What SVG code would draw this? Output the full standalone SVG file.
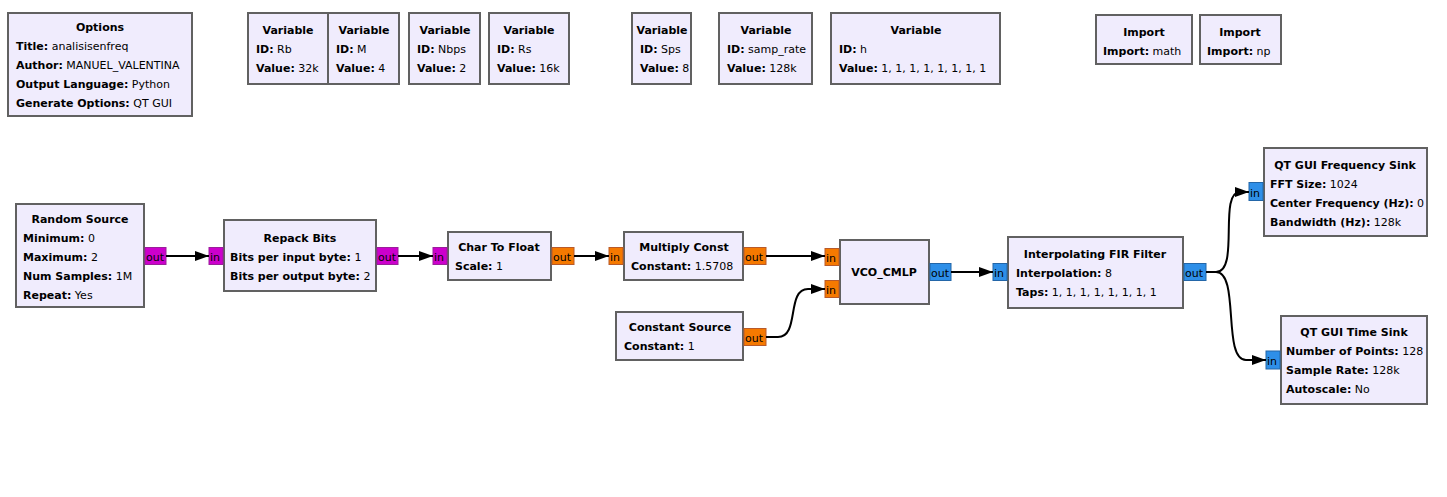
<svg xmlns="http://www.w3.org/2000/svg" width="1447" height="497" viewBox="0 0 1447 497">
<defs>
<style>
.blk{fill:#F0ECFD;stroke:#616161;stroke-width:2}
text{font-family:"DejaVu Sans","Liberation Sans",sans-serif;font-size:11px;fill:#000}
.t{font-weight:bold;text-anchor:middle}
.b{font-weight:bold}
.pb{fill:#CC00CC;stroke:#9A1F9A;stroke-width:1}
.pf{fill:#F57900;stroke:#B85A2A;stroke-width:1}
.pc{fill:#2E8FE8;stroke:#2366A8;stroke-width:1}
.pl{font-size:11px}
.w{fill:none;stroke:#000;stroke-width:2;marker-end:url(#ah)}
</style>
<marker id="ah" viewBox="0 0 14 10" refX="14" refY="5" markerWidth="14" markerHeight="10" markerUnits="userSpaceOnUse" orient="auto">
<path d="M0,0 L14,5 L0,10 Z" fill="#000"/>
</marker>
</defs>
<rect width="1447" height="497" fill="#fff"/>

<g id="options">
<rect class="blk" x="8" y="13" width="184" height="103"/>
<text class="t" x="100" y="31">Options</text>
<text x="16" y="50"><tspan class="b">Title:</tspan> analisisenfreq</text>
<text x="16" y="69"><tspan class="b">Author:</tspan> MANUEL_VALENTINA</text>
<text x="16" y="88"><tspan class="b">Output Language:</tspan> Python</text>
<text x="16" y="107"><tspan class="b">Generate Options:</tspan> QT GUI</text>
</g>

<g id="var_Rb">
<rect class="blk" x="248" y="13" width="80" height="71"/>
<text class="t" x="288" y="34">Variable</text>
<text x="256" y="53"><tspan class="b">ID:</tspan> Rb</text>
<text x="256" y="72"><tspan class="b">Value:</tspan> 32k</text>
</g>
<g id="var_M">
<rect class="blk" x="328" y="13" width="71" height="71"/>
<text class="t" x="364" y="34">Variable</text>
<text x="336" y="53"><tspan class="b">ID:</tspan> M</text>
<text x="336" y="72"><tspan class="b">Value:</tspan> 4</text>
</g>
<g id="var_Nbps">
<rect class="blk" x="409" y="13" width="71" height="71"/>
<text class="t" x="445" y="34">Variable</text>
<text x="417" y="53"><tspan class="b">ID:</tspan> Nbps</text>
<text x="417" y="72"><tspan class="b">Value:</tspan> 2</text>
</g>
<g id="var_Rs">
<rect class="blk" x="489" y="13" width="80" height="71"/>
<text class="t" x="529" y="34">Variable</text>
<text x="497" y="53"><tspan class="b">ID:</tspan> Rs</text>
<text x="497" y="72"><tspan class="b">Value:</tspan> 16k</text>
</g>
<g id="var_Sps">
<rect class="blk" x="632" y="13" width="59" height="71"/>
<text class="t" x="662" y="34">Variable</text>
<text x="640" y="53"><tspan class="b">ID:</tspan> Sps</text>
<text x="640" y="72"><tspan class="b">Value:</tspan> 8</text>
</g>
<g id="var_samp_rate">
<rect class="blk" x="719" y="13" width="93" height="71"/>
<text class="t" x="766" y="34">Variable</text>
<text x="727" y="53"><tspan class="b">ID:</tspan> samp_rate</text>
<text x="727" y="72"><tspan class="b">Value:</tspan> 128k</text>
</g>
<g id="var_h">
<rect class="blk" x="831" y="13" width="169" height="71"/>
<text class="t" x="916" y="34">Variable</text>
<text x="839" y="53"><tspan class="b">ID:</tspan> h</text>
<text x="839" y="72"><tspan class="b">Value:</tspan> 1, 1, 1, 1, 1, 1, 1, 1</text>
</g>
<g id="import_math">
<rect class="blk" x="1096" y="15" width="96" height="49"/>
<text class="t" x="1144" y="36">Import</text>
<text x="1103" y="55"><tspan class="b">Import:</tspan> math</text>
</g>
<g id="import_np">
<rect class="blk" x="1200" y="15" width="81" height="49"/>
<text class="t" x="1240" y="36">Import</text>
<text x="1207" y="55"><tspan class="b">Import:</tspan> np</text>
</g>

<g id="random_source">
<rect class="blk" x="16" y="204" width="128" height="103"/>
<text class="t" x="80" y="223">Random Source</text>
<text x="23" y="242"><tspan class="b">Minimum:</tspan> 0</text>
<text x="23" y="261"><tspan class="b">Maximum:</tspan> 2</text>
<text x="23" y="280"><tspan class="b">Num Samples:</tspan> 1M</text>
<text x="23" y="299"><tspan class="b">Repeat:</tspan> Yes</text>
<rect class="pb" x="145" y="247.5" width="21" height="17"/>
<text class="pl" x="146" y="261">out</text>
</g>

<g id="repack_bits">
<rect class="blk" x="224" y="220" width="152" height="71"/>
<text class="t" x="300" y="242">Repack Bits</text>
<text x="230" y="261"><tspan class="b">Bits per input byte:</tspan> 1</text>
<text x="230" y="280"><tspan class="b">Bits per output byte:</tspan> 2</text>
<rect class="pb" x="209" y="247.5" width="14" height="17"/>
<text class="pl" x="210" y="261">in</text>
<rect class="pb" x="377" y="247.5" width="21" height="17"/>
<text class="pl" x="378" y="261">out</text>
</g>

<g id="char_to_float">
<rect class="blk" x="448" y="232" width="103" height="48"/>
<text class="t" x="499" y="251">Char To Float</text>
<text x="455" y="270"><tspan class="b">Scale:</tspan> 1</text>
<rect class="pb" x="433" y="247.5" width="14" height="17"/>
<text class="pl" x="434" y="261">in</text>
<rect class="pf" x="552" y="247.5" width="22" height="17"/>
<text class="pl" x="553" y="261">out</text>
</g>

<g id="multiply_const">
<rect class="blk" x="624" y="232" width="119" height="48"/>
<text class="t" x="684" y="251">Multiply Const</text>
<text x="631" y="270"><tspan class="b">Constant:</tspan> 1.5708</text>
<rect class="pf" x="609" y="247.5" width="14" height="17"/>
<text class="pl" x="610" y="261">in</text>
<rect class="pf" x="744" y="247.5" width="22" height="17"/>
<text class="pl" x="745" y="261">out</text>
</g>

<g id="constant_source">
<rect class="blk" x="616" y="312" width="127" height="48"/>
<text class="t" x="680" y="331">Constant Source</text>
<text x="624" y="350"><tspan class="b">Constant:</tspan> 1</text>
<rect class="pf" x="744" y="328.5" width="22" height="17"/>
<text class="pl" x="745" y="342">out</text>
</g>

<g id="vco_cmlp">
<rect class="blk" x="840" y="240" width="89" height="64"/>
<text class="t" x="884" y="276">VCO_CMLP</text>
<rect class="pf" x="825" y="248.5" width="14" height="17"/>
<text class="pl" x="826" y="262">in</text>
<rect class="pf" x="825" y="280.5" width="14" height="17"/>
<text class="pl" x="826" y="294">in</text>
<rect class="pc" x="930" y="263.5" width="21" height="17"/>
<text class="pl" x="931" y="277">out</text>
</g>

<g id="interp_fir">
<rect class="blk" x="1008" y="237" width="175" height="71"/>
<text class="t" x="1095" y="258">Interpolating FIR Filter</text>
<text x="1016" y="277"><tspan class="b">Interpolation:</tspan> 8</text>
<text x="1016" y="296"><tspan class="b">Taps:</tspan> 1, 1, 1, 1, 1, 1, 1, 1</text>
<rect class="pc" x="993" y="263.5" width="14" height="17"/>
<text class="pl" x="994" y="277">in</text>
<rect class="pc" x="1184" y="263.5" width="22" height="17"/>
<text class="pl" x="1185" y="277">out</text>
</g>

<g id="freq_sink">
<rect class="blk" x="1264" y="148" width="163" height="88"/>
<text class="t" x="1345" y="169">QT GUI Frequency Sink</text>
<text x="1270" y="188"><tspan class="b">FFT Size:</tspan> 1024</text>
<text x="1270" y="207"><tspan class="b">Center Frequency (Hz):</tspan> 0</text>
<text x="1270" y="226"><tspan class="b">Bandwidth (Hz):</tspan> 128k</text>
<rect class="pc" x="1249" y="182.5" width="14" height="18"/>
<text class="pl" x="1250" y="197">in</text>
</g>

<g id="time_sink">
<rect class="blk" x="1281" y="316" width="146" height="88"/>
<text class="t" x="1354" y="336">QT GUI Time Sink</text>
<text x="1286" y="355"><tspan class="b">Number of Points:</tspan> 128</text>
<text x="1286" y="374"><tspan class="b">Sample Rate:</tspan> 128k</text>
<text x="1286" y="393"><tspan class="b">Autoscale:</tspan> No</text>
<rect class="pc" x="1266" y="351" width="14" height="18"/>
<text class="pl" x="1267" y="365">in</text>
</g>

<g id="connectors">
<path class="w" d="M166,256 H209"/>
<path class="w" d="M398,256 H433"/>
<path class="w" d="M574,256 H609"/>
<path class="w" d="M766,256 H825"/>
<path class="w" d="M766,337 H778 C800,337 786,289 808,289 H825"/>
<path class="w" d="M951,272 H993"/>
<path class="w" d="M1206,272 H1216 C1240,272 1218,192 1240,192 H1249"/>
<path class="w" d="M1206,272 H1216 C1240,272 1222,360 1246,360 H1266"/>
</g>
</svg>
